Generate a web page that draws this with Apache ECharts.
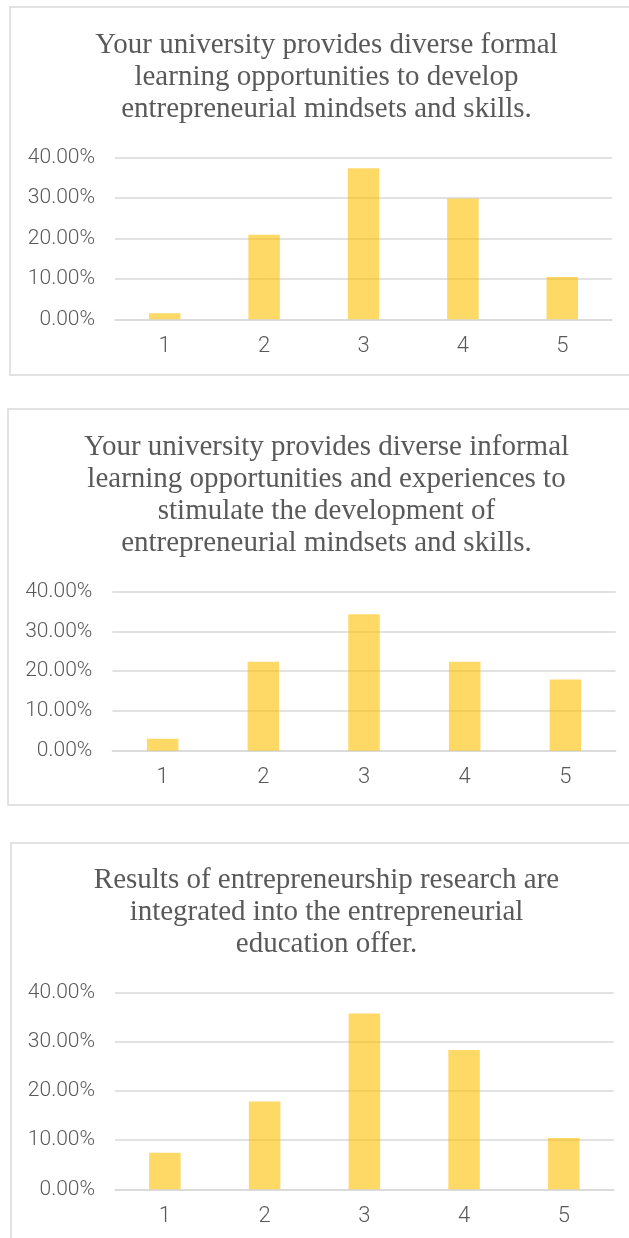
<!DOCTYPE html>
<html>
<head>
<meta charset="utf-8">
<title>Entrepreneurial education survey</title>
<script src="https://cdn.jsdelivr.net/npm/echarts@6/dist/echarts.min.js"></script>
<style>
  html, body { margin: 0; padding: 0; background: #ffffff; }
  #chart { width: 629px; height: 1238px; }
</style>
</head>
<body>
<div id="chart"></div>
<script>
// Likert answer options (1 = strongly disagree ... 5 = strongly agree)
const categories = ['1', '2', '3', '4', '5'];

// Share of respondents per answer, in percent
const formalShares = [1.49, 20.90, 37.31, 29.85, 10.45];
const informalShares = [2.99, 22.39, 34.33, 22.39, 17.91];
const researchShares = [7.46, 17.91, 35.82, 28.36, 10.45];

// Value axis ticks, in percent
const yMin = 0;
const yMax = 40;
const yStep = 10;

const questionTitles = [
  'Your university provides diverse formal\nlearning opportunities to develop\nentrepreneurial mindsets and skills.',
  'Your university provides diverse informal\nlearning opportunities and experiences to\nstimulate the development of\nentrepreneurial mindsets and skills.',
  'Results of entrepreneurship research are\nintegrated into the entrepreneurial\neducation offer.'
];
const seriesData = [formalShares, informalShares, researchShares];

// Layout of the three stacked panels (pixels)
const panels = [
  { box: [10, 7, 660, 368],  titleTop: 29,  grid: { left: 115, top: 157.3, width: 497, height: 162 } },
  { box: [8, 409, 660, 396], titleTop: 431, grid: { left: 112.3, top: 591.7, width: 503.4, height: 159 } },
  { box: [11, 843, 660, 500], titleTop: 864, grid: { left: 115, top: 993, width: 498.7, height: 196.3 } }
];

const textGray = '#595959';
const lineGray = '#d9d9d9';
const labelFont = "'Roboto', sans-serif";

const chart = echarts.init(document.getElementById('chart'), null, { renderer: 'canvas' });

const option = {
  backgroundColor: '#ffffff',
  animation: false,
  title: panels.map((p, i) => ({
    text: questionTitles[i],
    left: 326.5,
    top: p.titleTop,
    textAlign: 'center',
    padding: 0,
    textStyle: {
      fontFamily: "'Liberation Serif', 'Times New Roman', serif",
      fontWeight: 'normal',
      fontSize: 29,
      lineHeight: 32,
      color: textGray
    }
  })),
  graphic: panels.map(p => ({
    type: 'rect',
    silent: true,
    z: -1,
    shape: { x: p.box[0], y: p.box[1], width: p.box[2], height: p.box[3] },
    style: { fill: '#ffffff', stroke: lineGray, lineWidth: 1.5 }
  })),
  grid: panels.map(p => Object.assign({ containLabel: false }, p.grid)),
  xAxis: panels.map((p, i) => ({
    type: 'category',
    gridIndex: i,
    data: categories,
    axisTick: { show: false },
    axisLine: { show: true, lineStyle: { color: lineGray, width: 1.5 } },
    axisLabel: {
      margin: 16,
      fontFamily: labelFont,
      fontWeight: 300,
      fontSize: 22,
      color: textGray
    }
  })),
  yAxis: panels.map((p, i) => ({
    type: 'value',
    gridIndex: i,
    min: yMin,
    max: yMax,
    interval: yStep,
    axisLine: { show: false },
    axisTick: { show: false },
    splitLine: { lineStyle: { color: lineGray, width: 1.5 } },
    axisLabel: {
      margin: 20,
      fontFamily: labelFont,
      fontWeight: 300,
      fontSize: 21,
      color: textGray,
      formatter: v => v.toFixed(2) + '%'
    }
  })),
  series: seriesData.map((d, i) => ({
    type: 'bar',
    xAxisIndex: i,
    yAxisIndex: i,
    data: d,
    barWidth: 31.5,
    itemStyle: { color: 'rgba(255, 192, 0, 0.6)' },
    z: 3
  }))
};

chart.setOption(option);
</script>
</body>
</html>
